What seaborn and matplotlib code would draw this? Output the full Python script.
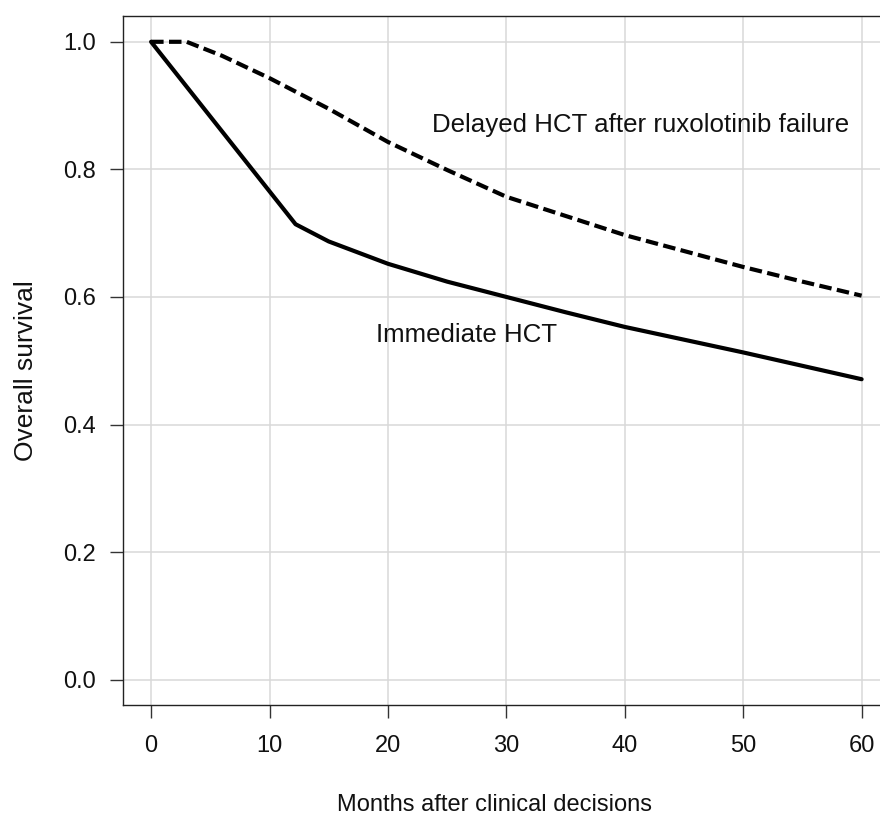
import numpy as np
import pandas as pd
import matplotlib
matplotlib.use("Agg")
import matplotlib.pyplot as plt
import seaborn as sns

# ========== Data ==========

months_immediate = [0, 12.2, 15, 20, 25, 30, 35, 40, 45, 50, 55, 60]
os_immediate = [1.0, 0.714, 0.687, 0.652, 0.624, 0.600, 0.576, 0.553, 0.533, 0.513, 0.492, 0.471]

months_delayed = [0, 3, 6, 10, 15, 20, 25, 30, 35, 40, 45, 50, 55, 60]
os_delayed = [1.0, 1.0, 0.978, 0.943, 0.895, 0.843, 0.799, 0.757, 0.727, 0.697, 0.672, 0.647, 0.624, 0.602]

x_ticks = [0, 10, 20, 30, 40, 50, 60]
y_ticks = [0.0, 0.2, 0.4, 0.6, 0.8, 1.0]

label_delayed = "Delayed HCT after ruxolotinib failure"
label_immediate = "Immediate HCT"

# ========== Plot ==========

sns.set_theme(style="white")
plt.rcParams['font.family'] = ['Liberation Sans', 'DejaVu Sans']

fig = plt.figure(figsize=(8.8, 8.14), dpi=100)
ax = fig.add_axes([0.1394, 0.1337, 0.8720, 0.8463])

df_imm = pd.DataFrame({'month': months_immediate, 'os': os_immediate})
df_del = pd.DataFrame({'month': months_delayed, 'os': os_delayed})

sns.lineplot(data=df_imm, x='month', y='os', color='black', linewidth=3.0, ax=ax)
sns.lineplot(data=df_del, x='month', y='os', color='black', linewidth=3.0, ax=ax,
             linestyle=(0, (3.0, 1.3)))

ax.set_xlim(-2.4, 62.4)
ax.set_ylim(-0.04, 1.04)
ax.set_xticks(x_ticks)
ax.set_yticks(y_ticks)
ax.set_xticklabels([str(t) for t in x_ticks])
ax.set_yticklabels([f"{t:.1f}" for t in y_ticks])
ax.grid(True, color='#d9d9d9', linewidth=1.1)
ax.set_axisbelow(True)

for side in ['left', 'bottom', 'top', 'right']:
    ax.spines[side].set_color('#222222')
    ax.spines[side].set_linewidth(1.0)

ax.tick_params(axis='both', which='major', direction='out', length=9.6, width=1.0,
               color='#333333', labelsize=17, labelcolor='#111111',
               left=True, bottom=True)
ax.tick_params(axis='x', pad=12.0)
ax.tick_params(axis='y', pad=9.6)

ax.set_xlabel("Months after clinical decisions", fontsize=17, color='#111111')
ax.set_ylabel("Overall survival", fontsize=19, color='#111111')
ax.xaxis.set_label_coords(0.484, -0.1283)
ax.yaxis.set_label_coords(-0.1097, 0.4855)

ax.text(23.7, 0.8585, label_delayed, fontsize=18.6, color='#111111', va='baseline', ha='left')
ax.text(18.96, 0.529, label_immediate, fontsize=18.6, color='#111111', va='baseline', ha='left')

fig.savefig("out.png", dpi=100)
